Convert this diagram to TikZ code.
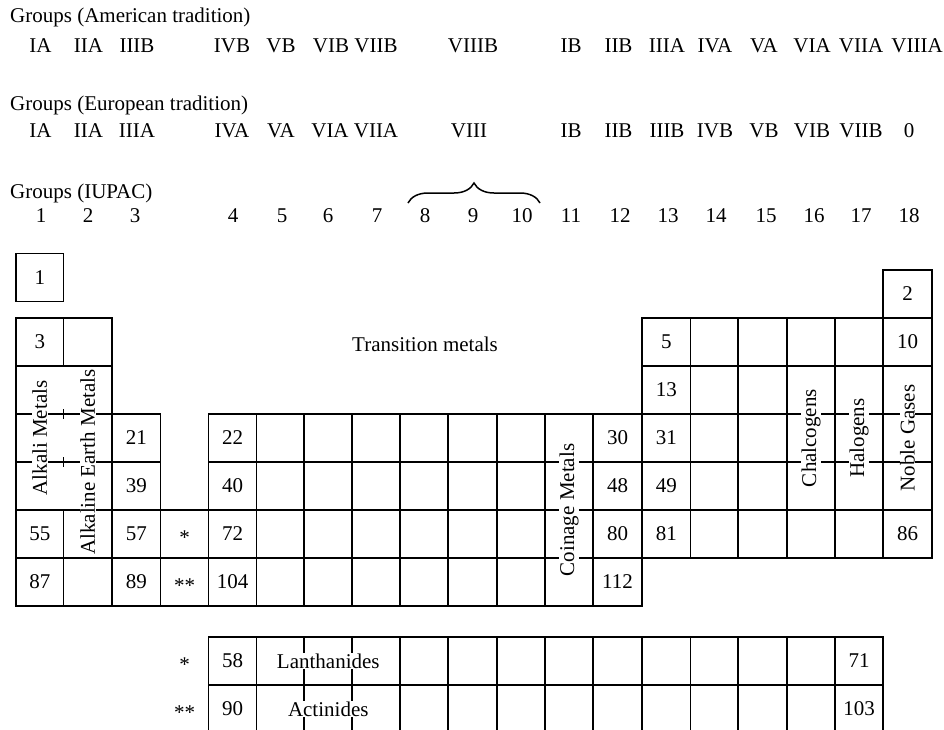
\documentclass[tikz,border=0pt]{standalone}
\usepackage{fontspec}
\setmainfont{Liberation Serif}
\usetikzlibrary{decorations.pathreplacing}
\def\XL{{16,63.5,112,160.5,208.5,256.5,304,352,400,448,497,545,593,642,690.5,738,787,835,883,932}}
\newcommand{\pcell}[3]{\pgfmathsetmacro{\xa}{\XL[#1]}\pgfmathsetmacro{\xb}{\XL[#1+1]}\draw[gridline] (\xa,#2) rectangle (\xb,#3);}
\newcommand{\pnum}[5][]{\pgfmathsetmacro{\xa}{\XL[#2]}\pgfmathsetmacro{\xb}{\XL[#2+1]}\pgfmathsetmacro{\xc}{(\xa+\xb)/2}\node[num,#1] (#5) at (\xc,#3+24) {#4};}
\begin{document}
\begin{tikzpicture}[x=1pt,y=-1pt,
  gridline/.style={line width=1.3pt, black},
  num/.style={font=\fontsize{21}{25}\selectfont, inner sep=0pt},
  hdr/.style={font=\fontsize{21}{25}\selectfont, anchor=base west, inner sep=0pt},
  grp/.style={font=\fontsize{21}{25}\selectfont, anchor=base, inner sep=0pt},
  vlabel/.style={font=\fontsize{21}{25}\selectfont, rotate=90, fill=white, inner sep=0.5pt},
  hlabel/.style={font=\fontsize{21}{25}\selectfont, fill=white, inner sep=0.5pt},
  bracestyle/.style={line width=1.5pt, decorate, decoration={brace, amplitude=20pt}}]
\useasboundingbox (0,0) rectangle (944,729);
\clip (0,0) rectangle (944,729);

% headings
\node[hdr] (hA) at (10,22) {Groups (American tradition)};
\node[hdr] (hE) at (10,110) {Groups (European tradition)};
\node[hdr] (hI) at (10,198) {Groups (IUPAC)};

% American
\foreach \x/\t [count=\k] in {40.5/IA,88.5/IIA,137/IIIB,232/IVB,281/VB,331/VIB,376/VIIB,473/VIIIB,571/IB,618.5/IIB,667/IIIA,715/IVA,764/VA,812/VIA,861/VIIA,917/VIIIA}
  \node[grp] (am\k) at (\x,52) {\t};
% European
\foreach \x/\t [count=\k] in {40.5/IA,88.5/IIA,137/IIIA,232/IVA,281/VA,330/VIA,376/VIIA,469/VIII,571/IB,618.5/IIB,667/IIIB,715/IVB,764/VB,812/VIB,861/VIIB,909/0}
  \node[grp] (eu\k) at (\x,137) {\t};
% IUPAC
\foreach \x/\t [count=\k] in {41/1,88/2,135/3,233/4,282/5,328/6,377/7,425/8,473/9,522/10,571/11,620/12,668/13,716/14,766/15,814/16,861/17,909/18}
  \node[grp] (iu\k) at (\x,222) {\t};

\draw[bracestyle] (408,203) -- (540,203);

% cells
\draw[gridline] (16,253.5) rectangle (63.5,301.5);
\draw[gridline] (883,270) rectangle (932,318);
\foreach \i in {0,1,13,14,15,16,17,18} {\pcell{\i}{318}{366}}
\foreach \i in {13,...,18} {\pcell{\i}{366}{414}}
\pcell{2}{414}{462}
\foreach \i in {4,...,18} {\pcell{\i}{414}{462}}
\pcell{2}{462}{510}
\foreach \i in {4,...,18} {\pcell{\i}{462}{510}}
\foreach \i in {0,2,3} {\pcell{\i}{510}{558}}
\foreach \i in {4,...,18} {\pcell{\i}{510}{558}}
\foreach \i in {0,1,2,3} {\pcell{\i}{558}{606}}
\foreach \i in {4,...,12} {\pcell{\i}{558}{606}}
\foreach \i in {4,...,17} {\pcell{\i}{637}{685}}
\foreach \i in {4,...,17} {\pcell{\i}{685}{733}}

% alkali / alkaline earth region
\draw[gridline] (16,366) -- (16,510);
\draw[gridline] (112,366) -- (112,414);
\draw[gridline] (16,414) -- (112,414);
\draw[gridline] (16,462) -- (112,462);
\draw[gridline] (16,510) -- (112,510);
\draw[gridline] (63.5,409) -- (63.5,419);
\draw[gridline] (63.5,457) -- (63.5,467);

% numbers
\pnum{0}{253.5}{1}{e1}
\pnum{18}{270}{2}{e2}
\pnum{0}{318}{3}{e3}
\pnum{13}{318}{5}{e5}
\pnum{18}{318}{10}{e10}
\pnum{13}{366}{13}{e13}
\pnum{2}{414}{21}{e21}
\pnum{4}{414}{22}{e22}
\pnum{12}{414}{30}{e30}
\pnum{13}{414}{31}{e31}
\pnum{2}{462}{39}{e39}
\pnum{4}{462}{40}{e40}
\pnum{12}{462}{48}{e48}
\pnum{13}{462}{49}{e49}
\pnum{0}{510}{55}{e55}
\pnum{2}{510}{57}{e57}
\pnum[yshift=-4pt]{3}{510}{*}{st1}
\pnum{4}{510}{72}{e72}
\pnum{12}{510}{80}{e80}
\pnum{13}{510}{81}{e81}
\pnum{18}{510}{86}{e86}
\pnum{0}{558}{87}{e87}
\pnum{2}{558}{89}{e89}
\pnum[yshift=-4pt]{3}{558}{**}{st2}
\pnum{4}{558}{104}{e104}
\pnum{12}{558}{112}{e112}
\pnum[yshift=-4pt]{3}{637}{*}{st3}
\pnum{4}{637}{58}{e58}
\pnum{17}{637}{71}{e71}
\pnum[yshift=-4pt]{3}{685}{**}{st4}
\pnum{4}{685}{90}{e90}
\pnum{17}{685}{103}{e103}

% labels
\node[num] (tm) at (425,344) {Transition metals};
\node[vlabel] (alk) at (39.75,438) {Alkali Metals};
\node[vlabel] (alke) at (87.75,462) {Alkaline Earth Metals};
\node[vlabel] (coin) at (569,510) {Coinage Metals};
\node[vlabel] (chal) at (811,438) {Chalcogens};
\node[vlabel] (halo) at (859,438) {Halogens};
\node[vlabel] (noble) at (907.5,438) {Noble Gases};
\node[hlabel] (lan) at (328.25,661) {Lanthanides};
\node[hlabel] (act) at (328.25,709) {Actinides};
\end{tikzpicture}
\end{document}
